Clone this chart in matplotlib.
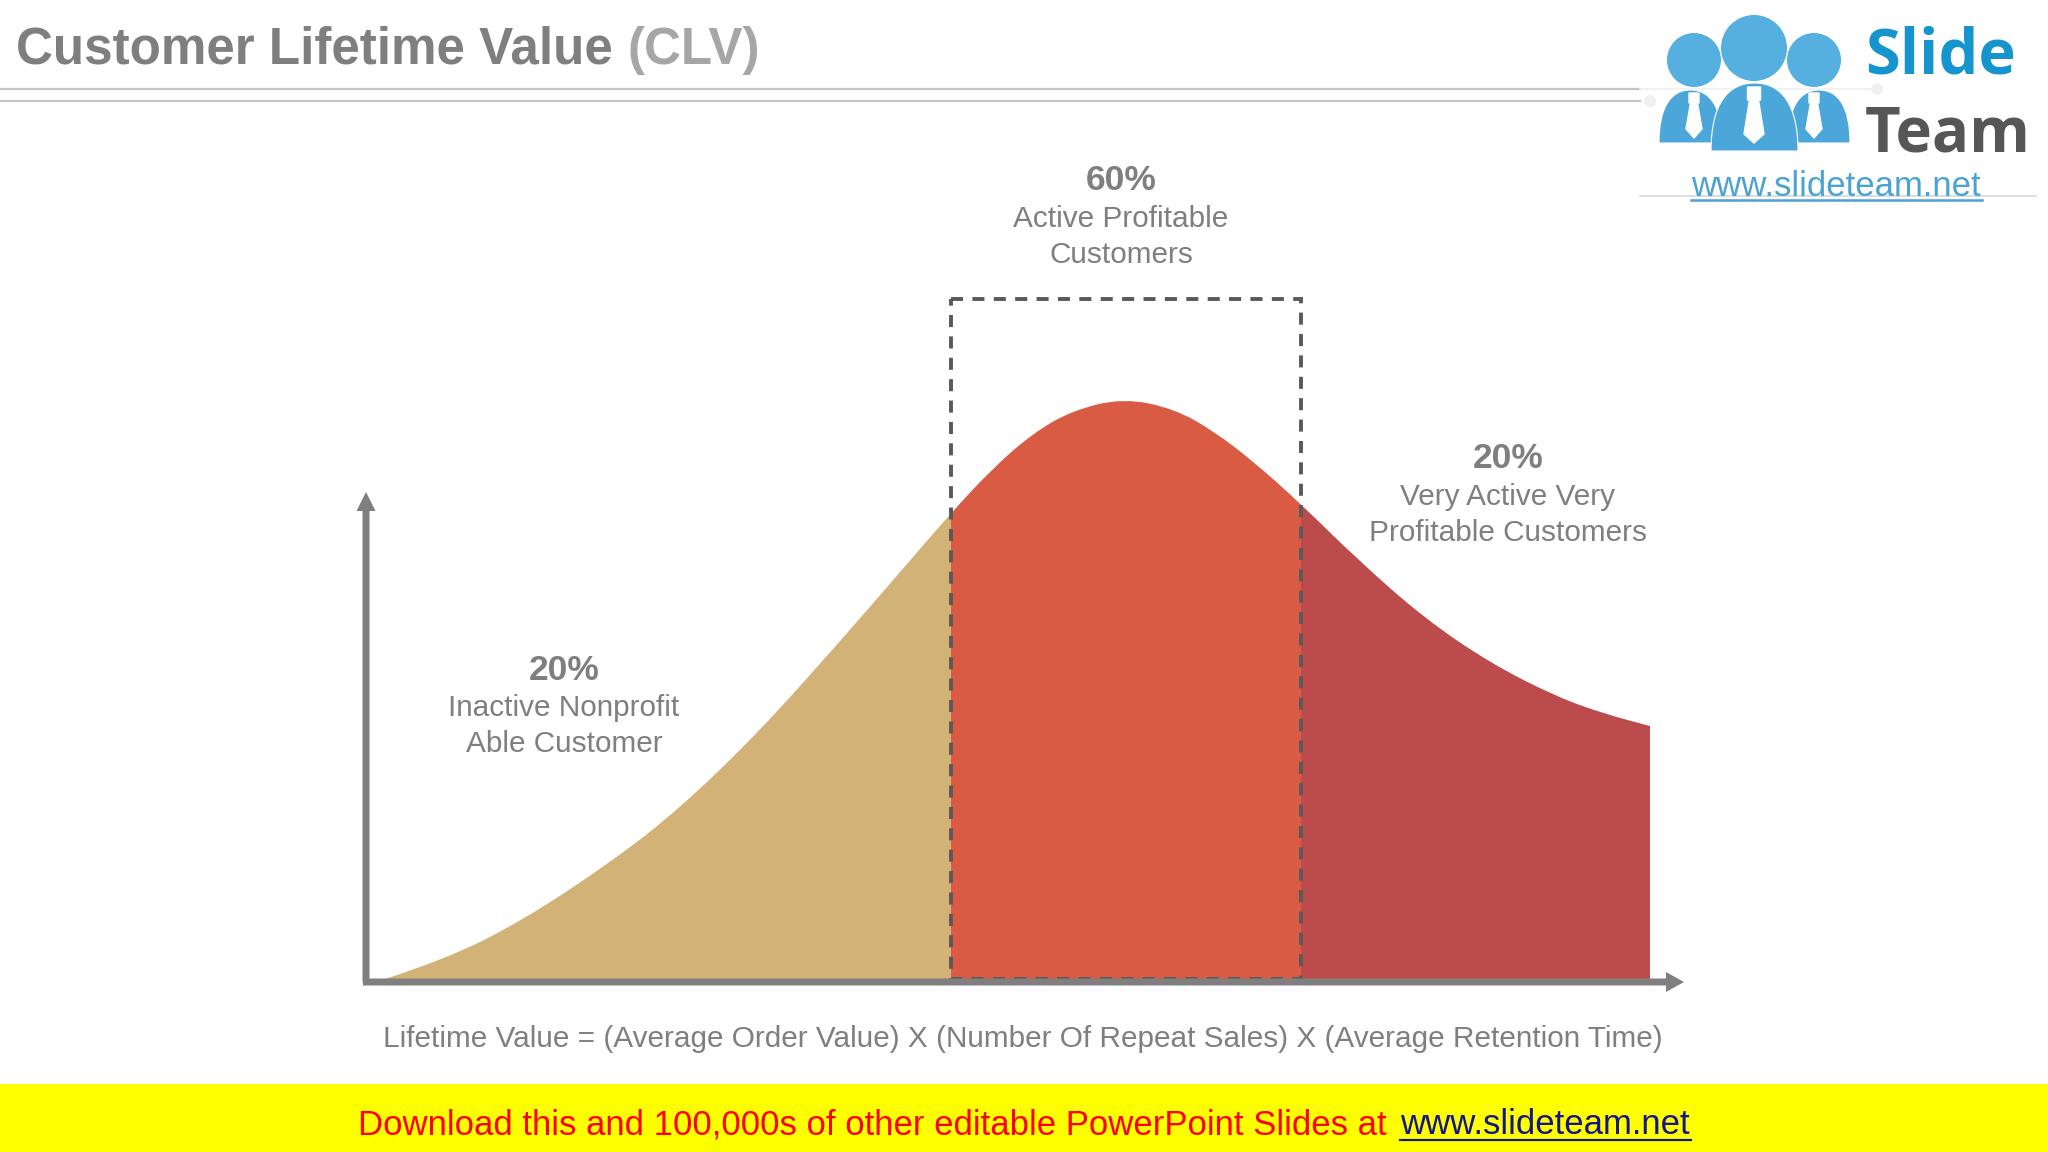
import matplotlib
matplotlib.use('Agg')
import matplotlib.pyplot as plt
from matplotlib.patches import PathPatch, Rectangle, Circle
from matplotlib.path import Path

plt.rcParams['font.family'] = ['Liberation Sans', 'DejaVu Sans']

# curve, in image pixels
curve_x = [385, 444, 522, 614, 679, 757, 836, 901, 951, 993, 1032, 1071, 1123,
           1175, 1215, 1254, 1301, 1358, 1424, 1490, 1557, 1605, 1650]
curve_y = [979, 960, 921, 860, 809, 734, 646, 571, 513, 468, 434, 411, 398,
           409, 432, 462, 504, 560, 618, 663, 697, 714, 726]
baseline = 979
split_x = [385, 951, 1301, 1650]
segment_colors = ['#D3B278', '#D95B43', '#BC4B4C']

percents = ['20%', '60%', '20%']
captions = ['Inactive Nonprofit\nAble Customer', 'Active Profitable\nCustomers',
            'Very Active Very\nProfitable Customers']
label_x = [564, 1121, 1508]
percent_y = [670, 180, 458]
caption_y = [708, 219, 497]

GREY = '#7F7F7F'
TEXT = '#7F7F7F'

fig = plt.figure(figsize=(20.48, 11.52), dpi=100, facecolor='white')
ax = fig.add_axes([0, 0, 1, 1])
ax.set_xlim(0, 2048)
ax.set_ylim(1152, 0)
ax.axis('off')

# smooth outline through the read points (quadratic segments)
verts = [(curve_x[0], baseline), (curve_x[0], curve_y[0])]
codes = [Path.MOVETO, Path.LINETO]
for i in range(1, len(curve_x) - 1):
    verts.append((curve_x[i], curve_y[i]))
    codes.append(Path.CURVE3)
    verts.append(((curve_x[i] + curve_x[i + 1]) / 2, (curve_y[i] + curve_y[i + 1]) / 2))
    codes.append(Path.CURVE3)
verts += [(curve_x[-1], curve_y[-1]), (curve_x[-1], baseline), (curve_x[0], baseline)]
codes += [Path.LINETO, Path.LINETO, Path.CLOSEPOLY]
outline = Path(verts, codes)

for i in range(3):
    p = PathPatch(outline, facecolor=segment_colors[i], edgecolor='none', zorder=2)
    ax.add_patch(p)
    clip = Rectangle((split_x[i], 0), split_x[i + 1] - split_x[i], 1152, transform=ax.transData)
    p.set_clip_path(clip)

# dashed box round the middle part
ax.add_patch(Rectangle((split_x[1], 299), split_x[2] - split_x[1], baseline - 299, fill=False,
                       edgecolor='#595959', linewidth=2.8, linestyle=(0, (3.1, 2.4)), zorder=3))

# axes arrows
ax.arrow(366, 982, 0, -490, width=7, head_width=19, head_length=19, length_includes_head=True,
         facecolor=GREY, edgecolor='none', zorder=4)
ax.arrow(363, 982, 1321, 0, width=7, head_width=20, head_length=18, length_includes_head=True,
         facecolor=GREY, edgecolor='none', zorder=4)

for i in range(3):
    ax.text(label_x[i], percent_y[i], percents[i], fontsize=25.5, fontweight='bold', color=TEXT,
            ha='center', va='center')
    ax.text(label_x[i], caption_y[i], captions[i].split('\n')[0], fontsize=21.45, color=TEXT,
            ha='center', va='center')
    ax.text(label_x[i], caption_y[i] + 36, captions[i].split('\n')[1], fontsize=21.45, color=TEXT,
            ha='center', va='center')

ax.text(383, 1039, 'Lifetime Value = (Average Order Value) X (Number Of Repeat Sales) X (Average Retention Time)',
        fontsize=21.45, color=TEXT, ha='left', va='center')

# title
ax.text(16, 64, 'Customer Lifetime Value', fontsize=36.8, fontweight='bold', color='#7F7F7F',
        ha='left', va='baseline')
ax.text(627, 64, '(CLV)', fontsize=36.8, fontweight='bold', color='#A6A6A6', ha='left', va='baseline')
ax.plot([0, 1640], [89, 89], color='#C4C4C4', lw=1.6, zorder=1)
ax.plot([0, 1640], [101, 101], color='#C4C4C4', lw=1.6, zorder=1)

# logo
ax.plot([1640, 1877], [89, 89], color='#F0F0F0', lw=1.2, zorder=1)
ax.plot([1640, 2036], [196, 196], color='#D8D8D8', lw=1.2, zorder=1)
ax.add_patch(Circle((1877, 89), 6, facecolor='#F0F0F0', edgecolor='none', zorder=1))
ax.add_patch(Circle((1650, 101), 6, facecolor='#F0F0F0', edgecolor='none', zorder=1))
LOGO = '#4BA6DA'
for cx, cy, r in [(1694, 60, 27), (1814, 60, 27), (1754, 48, 33)]:
    ax.add_patch(Circle((cx, cy), r, facecolor='#55B0E0', edgecolor='none', zorder=5))
for x0, x1, top, bot, z in [(1659, 1722, 90, 143, 5), (1788, 1850, 90, 143, 5), (1711, 1798, 83, 151, 6)]:
    mid = (x0 + x1) / 2
    w = (x1 - x0) / 2
    h = bot - top
    body = Path([(x0, bot), (x0, top + 0.3 * h), (mid - 0.6 * w, top), (mid, top),
                 (mid + 0.6 * w, top), (x1, top + 0.3 * h), (x1, bot), (x0, bot)],
                [Path.MOVETO, Path.CURVE4, Path.CURVE4, Path.CURVE4,
                 Path.CURVE4, Path.CURVE4, Path.CURVE4, Path.CLOSEPOLY])
    ax.add_patch(PathPatch(body, facecolor=LOGO, edgecolor='white', linewidth=0.8, zorder=z))
for cx, top, bot, k, hw, kh, z in [(1694, 93, 138, 5, 8, 10, 6), (1814, 93, 138, 5, 8, 10, 6),
                                   (1754, 87, 143, 6.5, 10, 13, 7)]:
    ax.fill([cx - k, cx + k, cx + k, cx + k * 0.7, cx + hw, cx, cx - hw, cx - k * 0.7, cx - k],
            [top, top, top + kh, top + kh, bot - 9, bot, bot - 9, top + kh, top + kh],
            color='white', zorder=z)
ax.text(1865, 74, 'Slide', fontsize=45.5, fontweight='bold', color='#1594CE', family='Open Sans',
        ha='left', va='baseline')
ax.text(1865, 151, 'Team', fontsize=44.5, fontweight='bold', color='#565656', family='Open Sans',
        ha='left', va='baseline')
ax.text(1691, 196, 'www.slideteam.net', fontsize=25, color='#4BA3D3', ha='left', va='baseline')
ax.plot([1691, 1982], [200, 200], color='#4BA3D3', lw=1.8, zorder=3)

# download band
ax.add_patch(Rectangle((0, 1084), 2048, 68, facecolor='#FFFF00', edgecolor='none', zorder=1))
ax.text(358, 1125, 'Download this and 100,000s of other editable PowerPoint Slides at', fontsize=25.07,
        color='#FF0000', ha='left', va='center', zorder=2)
ax.text(1400, 1125, 'www.slideteam.net', fontsize=25, color='#14148C', ha='left', va='center', zorder=2)
ax.plot([1400, 1691], [1140, 1140], color='#14148C', lw=1.6, zorder=2)

fig.savefig('out.png', dpi=100)
